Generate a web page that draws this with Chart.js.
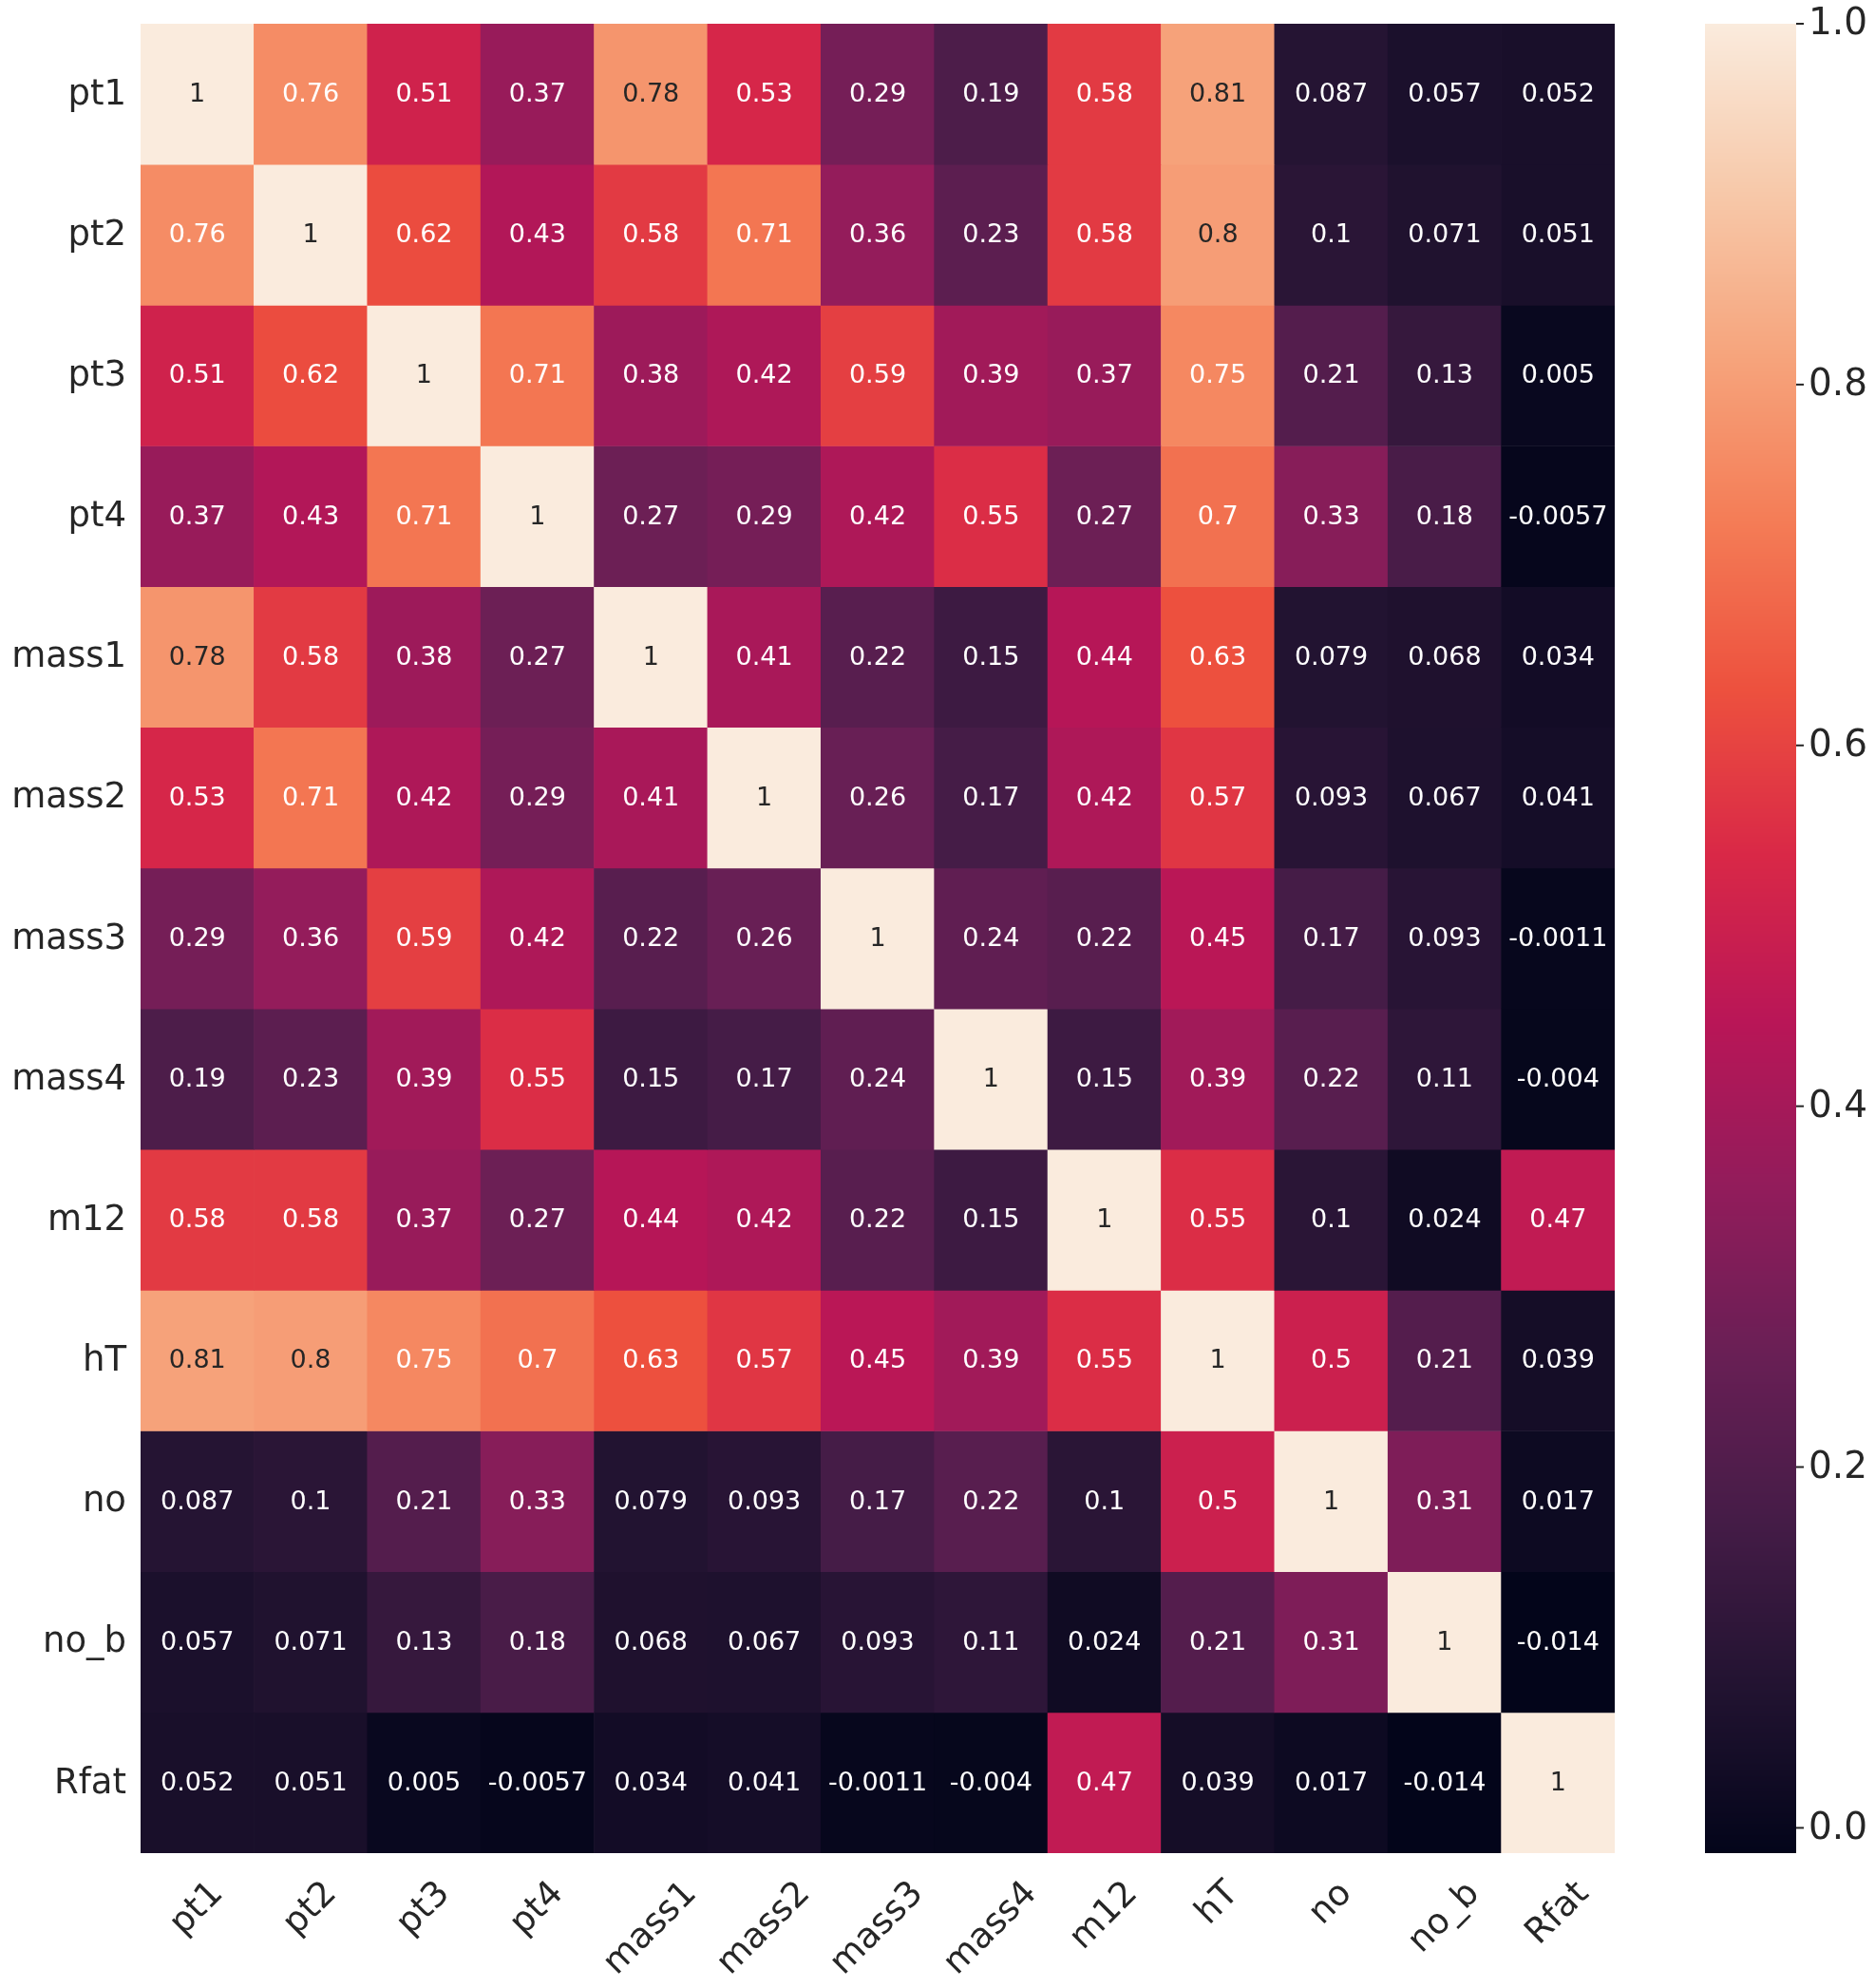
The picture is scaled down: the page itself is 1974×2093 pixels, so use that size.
<!DOCTYPE html>
<html>
<head>
<meta charset="utf-8">
<script src="https://cdn.jsdelivr.net/npm/chart.js@4.4.1/dist/chart.umd.min.js"></script>
<style>
  html, body { margin: 0; padding: 0; background: #ffffff; }
  #wrap { width: 1974px; height: 2093px; position: relative; }
</style>
</head>
<body>
<div id="wrap"><canvas id="heatmap"></canvas></div>
<script>
// column / row names
const labels = ['pt1', 'pt2', 'pt3', 'pt4', 'mass1', 'mass2', 'mass3', 'mass4', 'm12', 'hT', 'no', 'no_b', 'Rfat'];

// correlation rows
const pt1Row   = [1, 0.76, 0.51, 0.37, 0.78, 0.53, 0.29, 0.19, 0.58, 0.81, 0.087, 0.057, 0.052];
const pt2Row   = [0.76, 1, 0.62, 0.43, 0.58, 0.71, 0.36, 0.23, 0.58, 0.8, 0.1, 0.071, 0.051];
const pt3Row   = [0.51, 0.62, 1, 0.71, 0.38, 0.42, 0.59, 0.39, 0.37, 0.75, 0.21, 0.13, 0.005];
const pt4Row   = [0.37, 0.43, 0.71, 1, 0.27, 0.29, 0.42, 0.55, 0.27, 0.7, 0.33, 0.18, -0.0057];
const mass1Row = [0.78, 0.58, 0.38, 0.27, 1, 0.41, 0.22, 0.15, 0.44, 0.63, 0.079, 0.068, 0.034];
const mass2Row = [0.53, 0.71, 0.42, 0.29, 0.41, 1, 0.26, 0.17, 0.42, 0.57, 0.093, 0.067, 0.041];
const mass3Row = [0.29, 0.36, 0.59, 0.42, 0.22, 0.26, 1, 0.24, 0.22, 0.45, 0.17, 0.093, -0.0011];
const mass4Row = [0.19, 0.23, 0.39, 0.55, 0.15, 0.17, 0.24, 1, 0.15, 0.39, 0.22, 0.11, -0.004];
const m12Row   = [0.58, 0.58, 0.37, 0.27, 0.44, 0.42, 0.22, 0.15, 1, 0.55, 0.1, 0.024, 0.47];
const hTRow    = [0.81, 0.8, 0.75, 0.7, 0.63, 0.57, 0.45, 0.39, 0.55, 1, 0.5, 0.21, 0.039];
const noRow    = [0.087, 0.1, 0.21, 0.33, 0.079, 0.093, 0.17, 0.22, 0.1, 0.5, 1, 0.31, 0.017];
const noBRow   = [0.057, 0.071, 0.13, 0.18, 0.068, 0.067, 0.093, 0.11, 0.024, 0.21, 0.31, 1, -0.014];
const rfatRow  = [0.052, 0.051, 0.005, -0.0057, 0.034, 0.041, -0.0011, -0.004, 0.47, 0.039, 0.017, -0.014, 1];

const matrix = [pt1Row, pt2Row, pt3Row, pt4Row, mass1Row, mass2Row, mass3Row, mass4Row,
                m12Row, hTRow, noRow, noBRow, rfatRow];

// colorbar ticks
const cbarTicks = [0, 0.2, 0.4, 0.6, 0.8, 1.0];

// seaborn "rocket" colormap, sampled
const rocket = ['#03051a', '#221331', '#451c47', '#691f55', '#921c5b', '#b91657',
                '#d92847', '#ed513e', '#f47c56', '#f6a47c', '#f7c9aa', '#faebdd'];
const rocketPos = [0, 1/11, 2/11, 3/11, 4/11, 5/11, 6/11, 7/11, 8/11, 9/11, 10/11, 1];

const vmin = Math.min(...matrix.flat());
const vmax = Math.max(...matrix.flat());

function hexRgb(h) {
  return [parseInt(h.slice(1, 3), 16), parseInt(h.slice(3, 5), 16), parseInt(h.slice(5, 7), 16)];
}

function cmapRgb(v) {
  let t = (v - vmin) / (vmax - vmin);
  t = Math.max(0, Math.min(1, t));
  let k = 0;
  while (k < rocketPos.length - 2 && t > rocketPos[k + 1]) k++;
  const f = (t - rocketPos[k]) / (rocketPos[k + 1] - rocketPos[k]);
  const a = hexRgb(rocket[k]), b = hexRgb(rocket[k + 1]);
  return a.map((c, i) => Math.round(c + (b[i] - c) * f));
}

function cmap(v) {
  const c = cmapRgb(v);
  return 'rgb(' + c[0] + ',' + c[1] + ',' + c[2] + ')';
}

// same rule seaborn uses to pick the annotation colour
function textColor(v) {
  const lin = cmapRgb(v).map(c => {
    c = c / 255;
    return c <= 0.03928 ? c / 12.92 : Math.pow((c + 0.055) / 1.055, 2.4);
  });
  const lum = 0.2126 * lin[0] + 0.7152 * lin[1] + 0.0722 * lin[2];
  return lum > 0.408 ? '#262626' : '#ffffff';
}

const fmt = v => String(Number(v.toPrecision(2)));

const FONT = '"DejaVu Sans", sans-serif';

const datasets = labels.map((name, i) => ({
  label: name,
  data: matrix[i].map(() => 1),
  backgroundColor: matrix[i].map(v => cmap(v)),
  borderWidth: 0,
  barPercentage: 1,
  categoryPercentage: 1
}));

const heatmapDecor = {
  id: 'heatmapDecor',
  afterDatasetsDraw(chart) {
    const ctx = chart.ctx;
    const area = chart.chartArea;
    const xs = chart.scales.x, ys = chart.scales.y, cb = chart.scales.cb;
    ctx.save();

    // cell annotations
    ctx.font = '27px ' + FONT;
    ctx.textAlign = 'center';
    ctx.textBaseline = 'middle';
    matrix.forEach((row, i) => {
      const meta = chart.getDatasetMeta(i);
      meta.data.forEach((bar, j) => {
        const p = bar.getProps(['x', 'y', 'base'], true);
        ctx.fillStyle = textColor(row[j]);
        ctx.fillText(fmt(row[j]), p.x, (p.y + p.base) / 2 + 1);
      });
    });

    // row labels
    ctx.font = '37px ' + FONT;
    ctx.fillStyle = '#262626';
    ctx.textAlign = 'right';
    labels.forEach((name, i) => {
      ctx.fillText(name, area.left - 15, ys.getPixelForValue(i + 0.5) + 1);
    });

    // column labels, rotated 45 deg, bbox centred under the column
    ctx.textAlign = 'center';
    labels.forEach((name, j) => {
      const w = ctx.measureText(name).width;
      const side = (w + 37) / Math.SQRT2;
      const cx = xs.getPixelForValue(j);
      const cy = area.bottom + 24 + side / 2;
      ctx.save();
      ctx.translate(cx, cy);
      ctx.rotate(-Math.PI / 4);
      ctx.fillText(name, 0, 0);
      ctx.restore();
    });

    // colorbar
    const cbLeft = 1795, cbRight = 1891;
    for (let py = Math.floor(cb.top); py < Math.ceil(cb.bottom); py++) {
      ctx.fillStyle = cmap(cb.getValueForPixel(py + 0.5));
      ctx.fillRect(cbLeft, py, cbRight - cbLeft, 1);
    }
    ctx.strokeStyle = '#262626';
    ctx.lineWidth = 2;
    ctx.font = '39px ' + FONT;
    ctx.fillStyle = '#262626';
    ctx.textAlign = 'left';
    cbarTicks.forEach(t => {
      const py = cb.getPixelForValue(t);
      ctx.beginPath();
      ctx.moveTo(cbRight, py);
      ctx.lineTo(cbRight + 8, py);
      ctx.stroke();
      ctx.fillText(t.toFixed(1), cbRight + 13, py + 1);
    });

    ctx.restore();
  }
};

new Chart(document.getElementById('heatmap').getContext('2d'), {
  type: 'bar',
  data: { labels: labels, datasets: datasets },
  options: {
    responsive: true,
    maintainAspectRatio: false,
    animation: false,
    layout: { padding: { left: 148, top: 25, right: 1974 - 1700, bottom: 2093 - 1951 } },
    plugins: { legend: { display: false }, tooltip: { enabled: false } },
    scales: {
      x: { stacked: true, display: false, grid: { display: false } },
      y: { stacked: true, display: false, reverse: true, min: 0, max: labels.length, grid: { display: false } },
      cb: { axis: 'y', type: 'linear', display: false, min: vmin, max: vmax, position: 'right' }
    }
  },
  plugins: [heatmapDecor]
});
</script>
</body>
</html>
